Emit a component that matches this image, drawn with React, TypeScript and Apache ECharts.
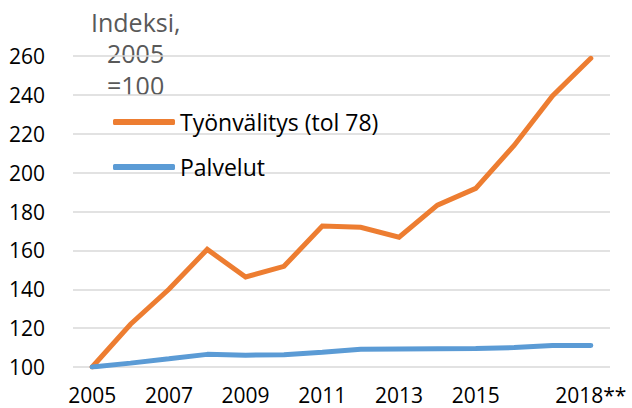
import React, { useEffect, useRef } from "react";
import * as echarts from "echarts";

const years = ["2005", "2006", "2007", "2008", "2009", "2010", "2011", "2012", "2013", "2014", "2015", "2016", "2017", "2018**"];
const shownYears = ["2005", "2007", "2009", "2011", "2013", "2015", "2018**"];
const tyonvalitys = [100, 122, 140, 160.5, 146.3, 151.8, 172.5, 171.9, 166.8, 183.3, 191.9, 214, 239.5, 258.8];
const palvelut = [100, 102, 104.2, 106.5, 106.1, 106.3, 107.6, 109.1, 109.3, 109.4, 109.5, 110, 111, 111.1];
const seriesNames = ["Työnvälitys (tol 78)", "Palvelut"];
const unitLines = ["Indeksi,", "2005", "=100"];

const FONT = "'Open Sans', sans-serif";

export default function App() {
  const ref = useRef<HTMLDivElement>(null);
  useEffect(() => {
    if (!ref.current) return;
    const chart = echarts.init(ref.current, null, { renderer: "svg" });
    chart.setOption({
      animation: false,
      grid: { left: 73, right: 22, top: 56, bottom: 41 },
      xAxis: {
        type: "category",
        data: years,
        boundaryGap: true,
        axisLine: { show: false },
        axisTick: { show: false },
        axisLabel: {
          interval: (idx: number, val: string) => shownYears.includes(val),
          color: "#000",
          fontSize: 21,
          lineHeight: 22,
          fontFamily: FONT,
          margin: 17,
        },
      },
      yAxis: {
        type: "value",
        min: 100,
        max: 260,
        interval: 20,
        axisLine: { show: false },
        axisTick: { show: false },
        splitLine: { lineStyle: { color: "#d9d9d9", width: 1.5 } },
        axisLabel: { color: "#000", fontSize: 21, fontFamily: FONT, margin: 28 },
      },
      legend: {
        orient: "vertical",
        left: 113,
        top: 110,
        padding: 0,
        itemGap: 21,
        itemWidth: 62,
        itemHeight: 6,
        icon: "roundRect",
        textStyle: { color: "#000", fontSize: 23, fontFamily: FONT, lineHeight: 24 },
        data: seriesNames,
      },
      graphic: [
        { type: "text", left: 91, top: 9, style: { text: unitLines[0], fill: "#595959", fontSize: 25, fontFamily: FONT } },
        { type: "text", left: 107, top: 40, style: { text: unitLines[1], fill: "#595959", fontSize: 25, fontFamily: FONT } },
        { type: "text", left: 107, top: 72, style: { text: unitLines[2], fill: "#595959", fontSize: 25, fontFamily: FONT } },
      ],
      series: [
        {
          name: seriesNames[0],
          type: "line",
          data: tyonvalitys,
          symbol: "none",
          lineStyle: { color: "#ed7d31", width: 5, cap: "round", join: "miter" },
          itemStyle: { color: "#ed7d31" },
        },
        {
          name: seriesNames[1],
          type: "line",
          data: palvelut,
          symbol: "none",
          lineStyle: { color: "#5b9bd5", width: 5, cap: "round" },
          itemStyle: { color: "#5b9bd5" },
        },
      ],
    });
    return () => chart.dispose();
  }, []);
  return <div ref={ref} style={{ width: 632, height: 408, position: "absolute", left: 0, top: 0 }} />;
}
